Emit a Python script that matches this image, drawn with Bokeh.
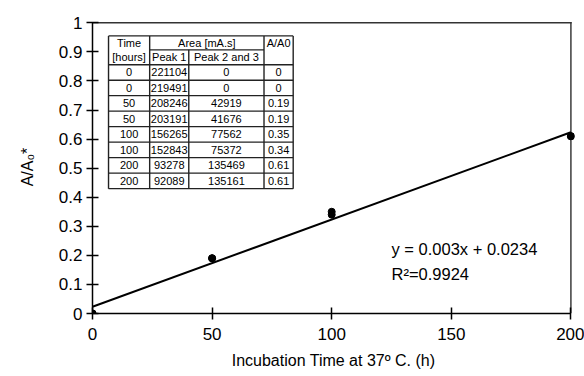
from bokeh.plotting import figure
from bokeh.models import Range1d, FixedTicker, CustomJSTickFormatter
from bokeh.core.properties import value
from bokeh.embed import file_html
from bokeh.resources import INLINE

# ---- data ----
time_h = [0, 0, 50, 50, 100, 100, 200, 200]
peak1 = [221104, 219491, 208246, 203191, 156265, 152843, 93278, 92089]
peak23 = [0, 0, 42919, 41676, 77562, 75372, 135469, 135161]
ratio = [0, 0, 0.19, 0.19, 0.35, 0.34, 0.61, 0.61]
x_ticks = [0, 50, 100, 150, 200]
y_ticks = [0, 0.1, 0.2, 0.3, 0.4, 0.5, 0.6, 0.7, 0.8, 0.9, 1.0]
fit_slope = 0.003
fit_intercept = 0.0234
fit_x = [0, 200]
equation_text = "y = 0.003x + 0.0234"
r2_text = "R\u00b2=0.9924"
x_label = "Incubation Time at 37\u00ba C. (h)"
y_label = "A/A\u2080*"
table_headers = ["Time", "[hours]", "Area [mA.s]", "Peak 1", "Peak 2 and 3", "A/A0"]

FONT = "Liberation Sans"

p = figure(width=584, height=376, output_backend="svg", toolbar_location=None,
           x_range=Range1d(0, 201.5), y_range=Range1d(0, 1.008),
           min_border_left=92, min_border_right=10, min_border_top=20, min_border_bottom=63)
p.outline_line_color = None
p.grid.visible = False

for ax in (p.xaxis[0], p.yaxis[0]):
    ax.axis_line_color = "black"
    ax.axis_line_width = 1.5
    ax.major_tick_line_color = "black"
    ax.major_tick_line_width = 1.5
    ax.major_tick_in = 6
    ax.major_tick_out = 6
    ax.minor_tick_line_color = None
    ax.major_label_text_font = FONT
    ax.major_label_text_font_size = "17px"
    ax.major_label_text_color = "black"
    ax.axis_label_text_font = FONT
    ax.axis_label_text_font_size = "16px"
    ax.axis_label_text_font_style = "normal"
    ax.axis_label_text_color = "black"

p.xaxis.ticker = FixedTicker(ticks=x_ticks)
p.yaxis.ticker = FixedTicker(ticks=y_ticks)
p.xaxis.bounds = (0, 200)
p.yaxis.bounds = (0, 1)
p.yaxis.formatter = CustomJSTickFormatter(code="return (Math.round(tick*10)/10).toString();")
p.xaxis.axis_label = x_label
p.yaxis.axis_label = y_label
p.xaxis.major_label_standoff = 8
p.xaxis.axis_label_standoff = 9
p.yaxis.major_label_standoff = 4
p.yaxis.axis_label_standoff = 20

# plot frame: top and right edges (thin filled bars)
p.quad(left=[0, 199.7], right=[200.3, 200.3], bottom=[0.9975, 0], top=[1.0025, 1.0025],
       fill_color="#333333", line_color=None)

# fit line
fit_y = [fit_slope * x + fit_intercept for x in fit_x]
p.line(x=fit_x, y=fit_y, line_color="black", line_width=2)

# points
p.scatter(x=time_h, y=ratio, size=7, color="black")

# equation
p.text(x=[125, 125], y=[0.223, 0.137], text=[equation_text, r2_text],
       text_font=value(FONT), text_font_size="16.5px", text_baseline="middle",
       text_align="left", text_color="black")

# ---- table (annotation, in data units) ----
col_edges = [6.7, 23.9, 40.25, 71.7, 83.9]
y_top, y_mid, y_hdr = 0.955, 0.907, 0.856
row_h = (y_hdr - 0.4296) / len(time_h)
y_bot = y_hdr - row_h * len(time_h)

x0s, y0s, x1s, y1s = [], [], [], []
def seg(a, b, c, d):
    x0s.append(a); y0s.append(b); x1s.append(c); y1s.append(d)

seg(col_edges[0], y_top, col_edges[-1], y_top)
seg(col_edges[1], y_mid, col_edges[3], y_mid)
for i in range(len(time_h) + 1):
    yy = y_hdr - i * row_h
    seg(col_edges[0], yy, col_edges[-1], yy)
for j, xe in enumerate(col_edges):
    if j == 2:
        seg(xe, y_mid, xe, y_bot)
    else:
        seg(xe, y_top, xe, y_bot)
p.segment(x0=x0s, y0=y0s, x1=x1s, y1=y1s, line_color="#222222", line_width=1.4)

cx = [(col_edges[k] + col_edges[k + 1]) / 2 for k in range(4)]
tx, ty, tt = [], [], []
r1 = (y_top + y_mid) / 2
r2 = (y_mid + y_hdr) / 2
tx += [cx[0], cx[0], (col_edges[1] + col_edges[3]) / 2, cx[1], cx[2], cx[3]]
ty += [r1, r2, r1, r2, r2, r1]
tt += table_headers
for i in range(len(time_h)):
    yy = y_hdr - (i + 0.5) * row_h
    tx += cx
    ty += [yy] * 4
    tt += [str(time_h[i]), str(peak1[i]), str(peak23[i]), ("%g" % ratio[i])]
p.text(x=tx, y=ty, text=tt, text_font=value(FONT), text_font_size="11px",
       text_align="center", text_baseline="middle", text_color="black")

open("out.html", "w").write(file_html(p, INLINE))
